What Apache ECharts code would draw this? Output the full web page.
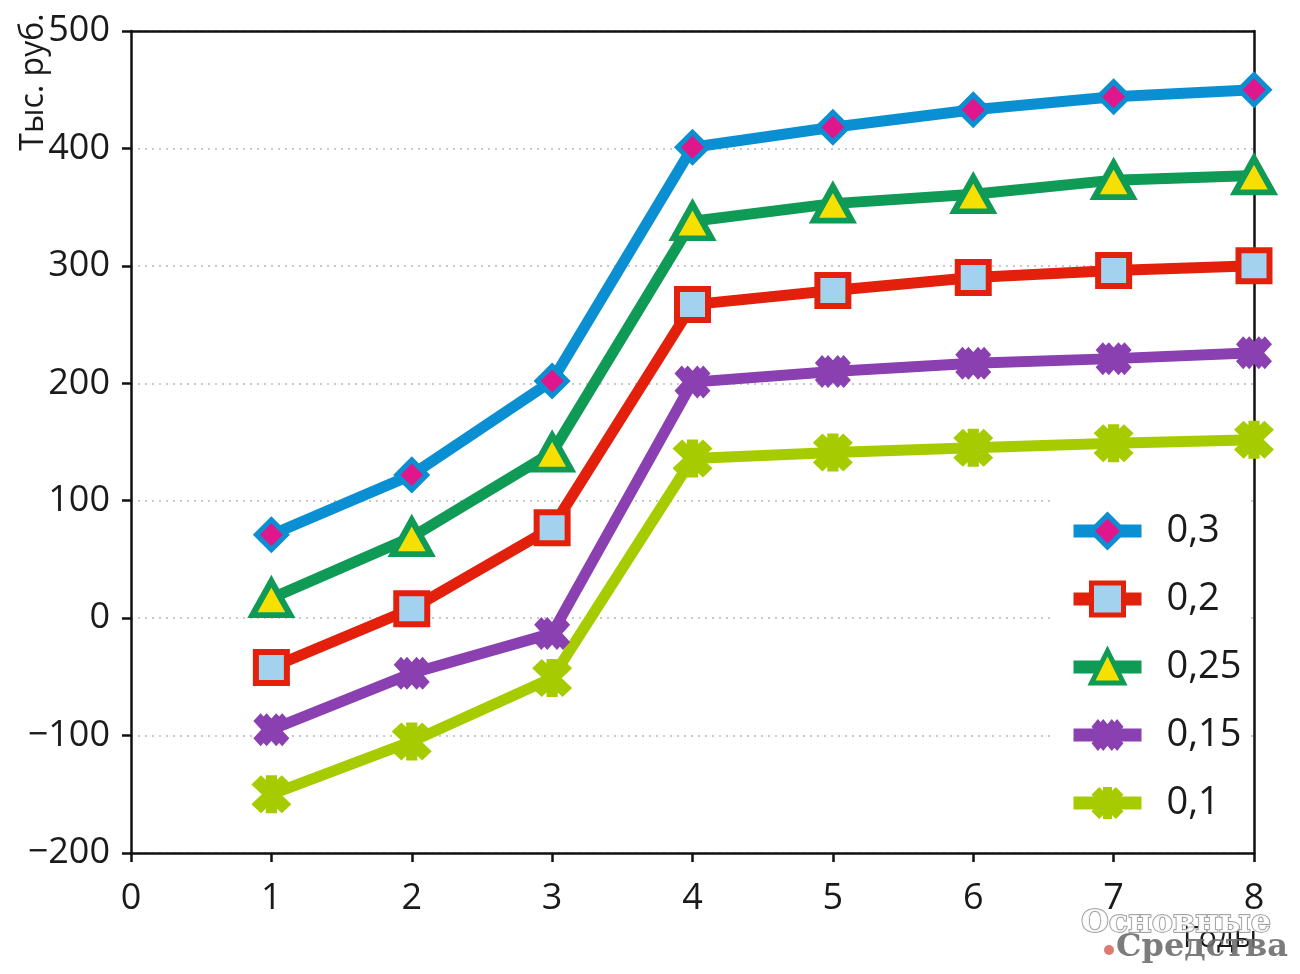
<!DOCTYPE html>
<html>
<head>
<meta charset="utf-8">
<script src="https://cdn.jsdelivr.net/npm/echarts@6/dist/echarts.min.js"></script>
<style>html,body{margin:0;padding:0;background:#fff}#c{width:1300px;height:974px}</style>
</head>
<body>
<div id="c"></div>
<script>
// ---- data ----
const years = [1, 2, 3, 4, 5, 6, 7, 8];
const seriesNames = ['0,3', '0,2', '0,25', '0,15', '0,1'];
const s03  = [71, 122, 202, 401, 418, 433, 444, 450];
const s02  = [-42, 8, 77, 267, 279, 290, 296, 300];
const s025 = [17, 69, 141, 338, 353, 361, 373, 377];
const s015 = [-95, -47, -13, 201, 210, 217, 221, 226];
const s01  = [-150, -105, -51, 136, 141, 145, 149, 152];
const yTicks = [-200, -100, 0, 100, 200, 300, 400, 500];
const xTicks = [0, 1, 2, 3, 4, 5, 6, 7, 8];
const yName = 'Тыс. руб.';
const xName = 'Годы';

const FONT = 'Open Sans';
const pts = v => v.map((y, i) => [years[i], y]);

const dblX = 'path://M24,0L100,76L76,100L0,24Z M76,0L100,24L24,100L0,76Z M44,0L120,76L96,100L20,24Z M96,0L120,24L44,100L20,76Z';
const aster = 'path://M24,0L100,76L76,100L0,24Z M76,0L100,24L24,100L0,76Z M36,0L64,0L64,100L36,100Z';

function mk(name, data, line, symbol, size, fill, border, bw) {
  return {
    name, type: 'line', data: pts(data), clip: false,
    symbol, symbolSize: size,
    lineStyle: { color: line, width: 11 },
    itemStyle: { color: fill, borderColor: border, borderWidth: bw },
    emphasis: { disabled: true },
    z: 3
  };
}

const frameAxis = {
  axisLine: { show: true, onZero: false, lineStyle: { color: '#111', width: 2.5 } },
  axisTick: { show: false }, axisLabel: { show: false }, splitLine: { show: false }
};

const chart = echarts.init(document.getElementById('c'));
chart.setOption({
  animation: false,
  backgroundColor: '#fff',
  grid: { left: 131, right: 46, top: 31, bottom: 121, show: false, containLabel: false },
  xAxis: [{
    type: 'value', min: 0, max: 8, interval: 1,
    axisLine: { onZero: false, lineStyle: { color: '#111', width: 2.5 } },
    axisTick: { show: true, length: 9, lineStyle: { color: '#111', width: 2.5 } },
    axisLabel: { color: '#1a1a1a', fontSize: 36, fontFamily: FONT, margin: 28,
      formatter: v => xTicks.includes(v) ? String(v) : '' },
    splitLine: { show: false }
  }, Object.assign({ type: 'value', min: 0, max: 8, position: 'top' }, frameAxis)],
  yAxis: [{
    type: 'value', min: -200, max: 500, interval: 100,
    axisLine: { show: true, onZero: false, lineStyle: { color: '#111', width: 2.5 } },
    axisTick: { show: true, length: 9, lineStyle: { color: '#111', width: 2.5 } },
    axisLabel: { color: '#1a1a1a', fontSize: 36, fontFamily: FONT, margin: 21,
      formatter: v => yTicks.includes(v) ? String(v).replace('-', '\u2212') : '' },
    splitLine: { show: true, lineStyle: { color: '#b8b8b8', type: [2, 5], width: 1.5 } }
  }, Object.assign({ type: 'value', min: -200, max: 500, position: 'right' }, frameAxis)],
  legend: {
    orient: 'vertical', left: 1055, top: 478,
    backgroundColor: '#fff',
    padding: [34, 8, 30, 12],
    itemWidth: 68, itemHeight: 40, itemGap: 30,
    data: [
      { name: seriesNames[0] },
      { name: seriesNames[1] },
      { name: seriesNames[2] },
      { name: seriesNames[3], itemStyle: { borderWidth: 0 } },
      { name: seriesNames[4], itemStyle: { borderWidth: 0 } }
    ],
    lineStyle: { width: 13 },
    itemStyle: { borderWidth: 5 },
    textStyle: { color: '#1a1a1a', fontSize: 38, fontFamily: FONT, padding: [0, 0, 0, 20] },
    selectedMode: false
  },
  graphic: [
    { type: 'text', x: 34, y: 82, rotation: Math.PI / 2,
      style: { text: yName, fontSize: 32, fontFamily: FONT, fill: '#1a1a1a', align: 'center', verticalAlign: 'middle' } },
    { type: 'text', x: 1220, y: 938,
      style: { text: xName, fontSize: 30, fontFamily: FONT, fill: '#1a1a1a', align: 'center', verticalAlign: 'middle' } },
    { type: 'text', x: 1176, y: 924, z: 100,
      style: { text: 'Основные', fontSize: 32, fontFamily: 'DejaVu Serif', fontWeight: 'bold', fill: 'rgba(255,255,255,0.85)', stroke: '#8a8a8a', lineWidth: 1.5, align: 'center', verticalAlign: 'middle' } },
    { type: 'text', x: 1202, y: 948, z: 100,
      style: { text: 'Средства', fontSize: 32, fontFamily: 'DejaVu Serif', fontWeight: 'bold', fill: 'rgba(110,110,110,0.9)', align: 'center', verticalAlign: 'middle' } },
    { type: 'circle', z: 100, shape: { cx: 1109, cy: 950, r: 5 }, style: { fill: '#e07a70' } }
  ],
  series: [
    mk(seriesNames[0], s03, '#0a90d2', 'diamond', 30, '#e0168c', '#0a90d2', 5),
    mk(seriesNames[1], s02, '#e2200c', 'rect', 31, '#a3d2ee', '#e2200c', 6),
    mk(seriesNames[2], s025, '#0f9a55', 'triangle', [38, 34], '#f7e000', '#0f9a55', 6),
    mk(seriesNames[3], s015, '#8a40b0', dblX, [36, 33], '#8a40b0', '#8a40b0', 0),
    mk(seriesNames[4], s01, '#a6cc00', aster, [40, 38], '#a6cc00', '#a6cc00', 0)
  ]
});
</script>
</body>
</html>
